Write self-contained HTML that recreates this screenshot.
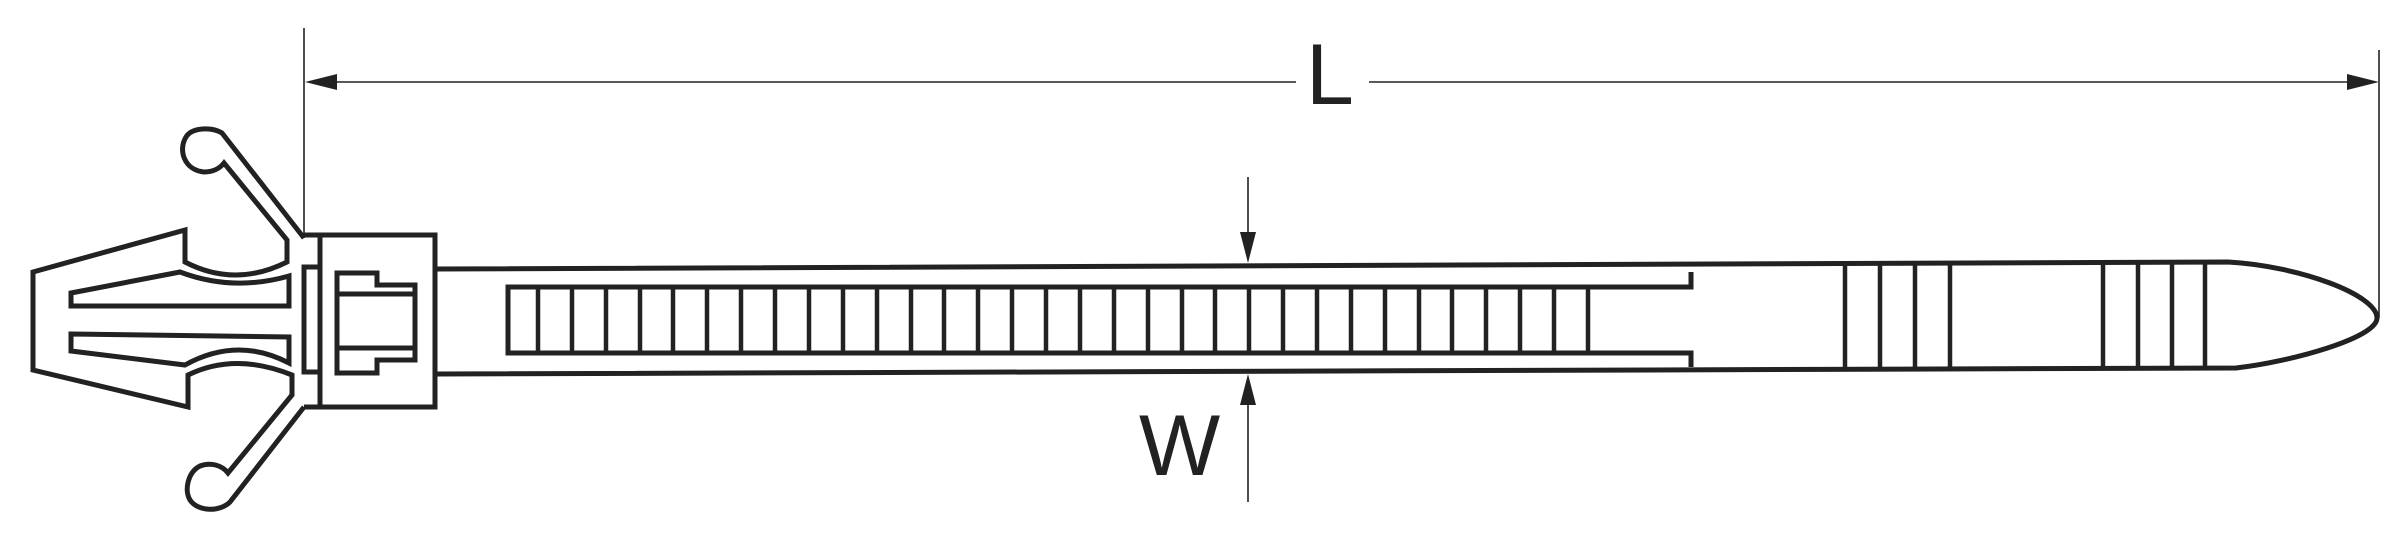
<!DOCTYPE html>
<html><head><meta charset="utf-8"><style>html,body{margin:0;padding:0;background:#fff}svg{display:block}</style></head>
<body>
<svg width="2405" height="543" viewBox="0 0 2405 543" xmlns="http://www.w3.org/2000/svg">
<g fill="none" stroke="#222" stroke-width="5" stroke-linejoin="miter">
<path d="M304,238 L222,133 C212,127 192,127 186,137 C178,150 184,170 204,172 C214,172 220,168 224,163 L287,240 L287,262 Q235,288 185,262 L185,230 L33,272 L33,370 L188,407 L188,375 Q235,352 292,375 L292,395 L228,473 C222,465 210,462 200,466 C188,472 184,490 190,500 C198,512 220,512 230,502 L304,407"/>
<path d="M71,293 L180,272 Q233,292 289,276 L289,306 L71,306 Z"/>
<path d="M71,334 L289,337 L289,363 Q237,336 185,365 L71,351 Z"/>
<path d="M304,235 L320,235 M304,407 L320,407 M320,235 L320,267 L304,267 L304,372 L320,372 L320,407"/>
<rect x="320" y="235" width="115" height="172"/>
<path d="M337,273 L377,273 L377,285 L415,285 L415,360 L377,360 L377,373 L337,373 Z M337,294 L415,294 M337,348 L415,348"/>
<path d="M435,269 L2228,262 C2300,266 2377,295 2377,318 C2377,338 2290,362 2236,368 L435,374"/>
<path d="M1691,272 L1691,287 L508,287 L508,353 L1691,353 L1691,367"/>
<path d="M538,287V353 M572,287V353 M606,287V353 M640,287V353 M673,287V353 M707,287V353 M741,287V353 M775,287V353 M809,287V353 M843,287V353 M877,287V353 M911,287V353 M944,287V353 M978,287V353 M1012,287V353 M1046,287V353 M1080,287V353 M1114,287V353 M1148,287V353 M1182,287V353 M1215,287V353 M1249,287V353 M1283,287V353 M1317,287V353 M1351,287V353 M1385,287V353 M1419,287V353 M1452,287V353 M1486,287V353 M1520,287V353 M1554,287V353 M1588,287V353" stroke-width="4.5"/>
<path d="M1845,264V370 M1880,264V370 M1915,264V370 M1950,264V370 M2103,263V369 M2138,263V369 M2172,263V369 M2205,263V369" stroke-width="4.5"/>
</g>
<g stroke="#222" stroke-width="1.6" fill="none">
<path d="M304,28V238 M2379,50V318 M320,82H1296 M1369,82H2360 M1248,177V235 M1248,403V502"/>
</g>
<g fill="#222">
<polygon points="305,82 337,74 337,90"/>
<polygon points="2379,82 2347,74 2347,90"/>
<polygon points="1248,263 1240,232 1256,232"/>
<polygon points="1248,374 1240,405 1256,405"/>
</g>
<text x="1306" y="104" font-family="Liberation Sans, sans-serif" font-size="86" fill="#222">L</text>
<text x="1139" y="475" font-family="Liberation Sans, sans-serif" font-size="86" fill="#222">W</text>
</svg>
</body></html>
